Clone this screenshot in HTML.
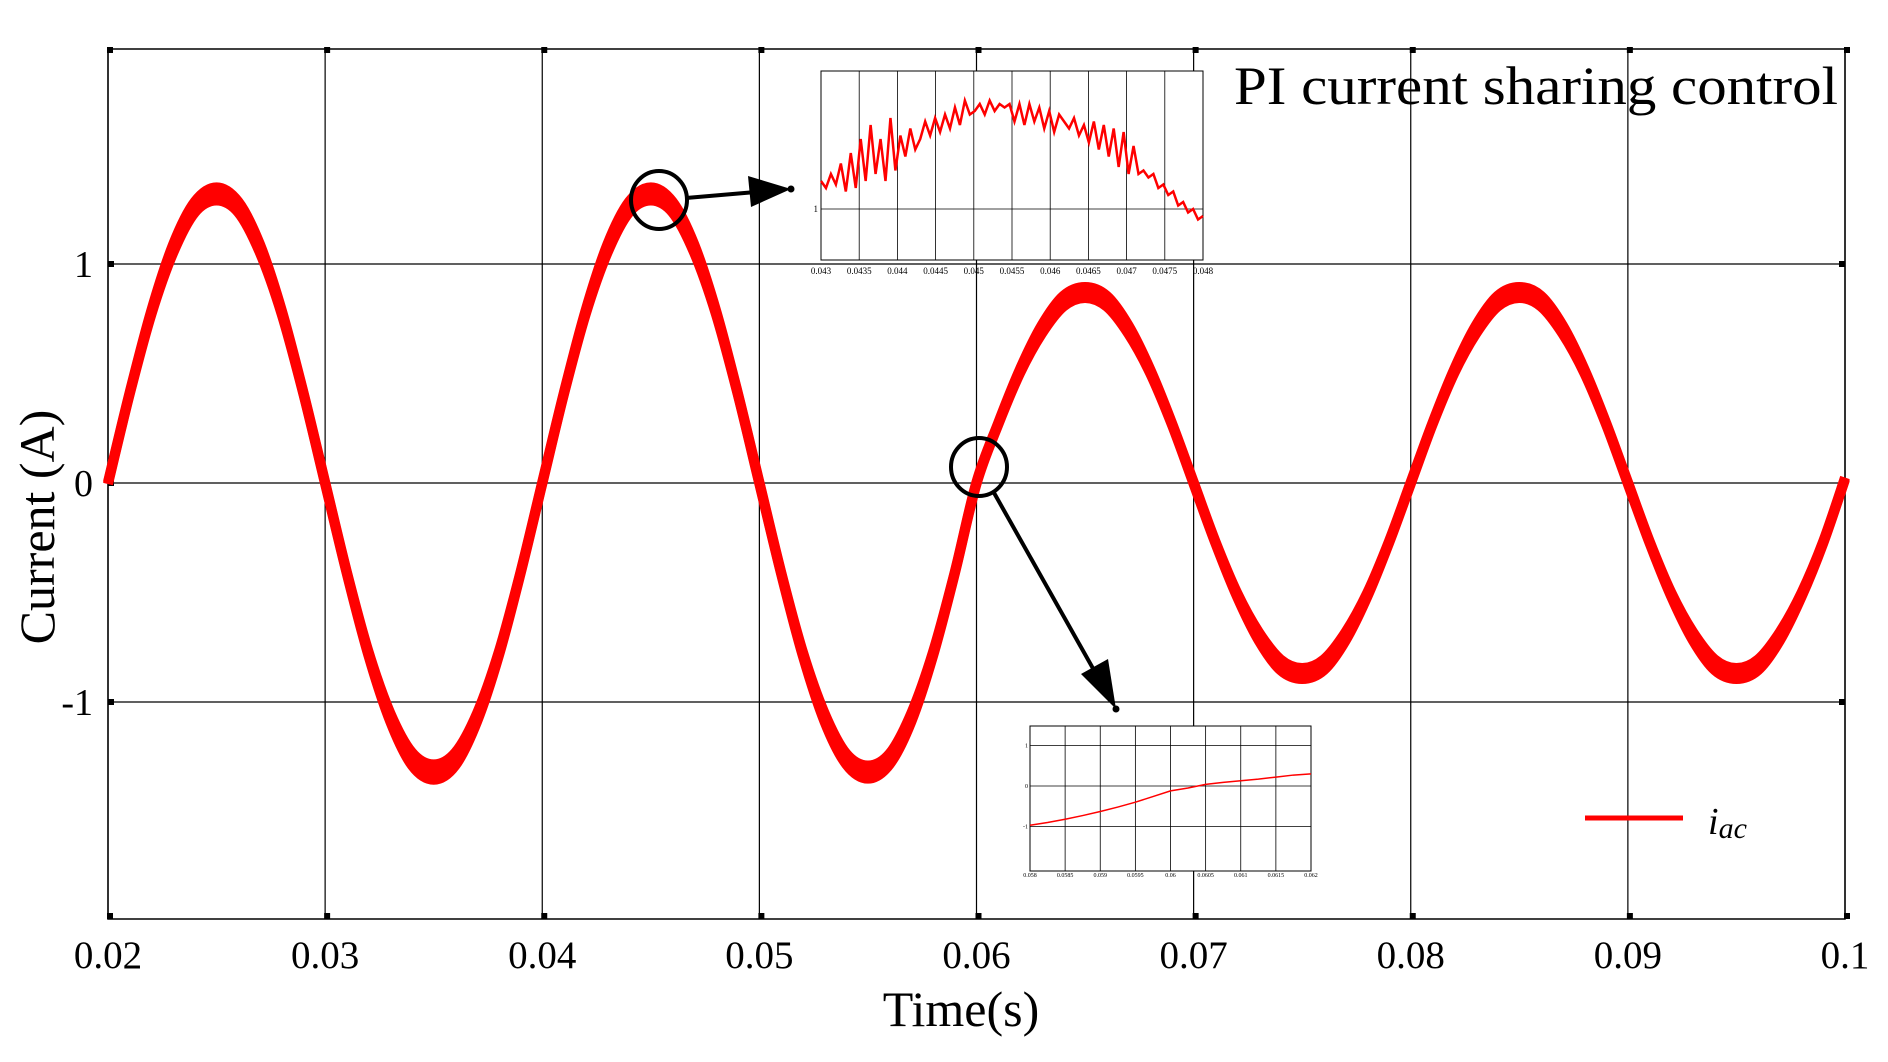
<!DOCTYPE html>
<html><head><meta charset="utf-8"><style>
html,body{margin:0;padding:0;background:#fff}
svg{display:block}
text{font-family:"Liberation Serif",serif;fill:#000}
</style></head><body>
<svg id="chart" width="1888" height="1062" viewBox="0 0 1888 1062" xmlns="http://www.w3.org/2000/svg">
<g id="main-grid"></g>
<g id="main-series"></g>
<g id="inset1"></g>
<g id="inset2"></g>
<g id="annot"></g>
<text x="1234" y="104" font-size="54" textLength="604" lengthAdjust="spacingAndGlyphs">PI current sharing control</text>
<line x1="1585" y1="818" x2="1683" y2="818" stroke="#ff0000" stroke-width="5"/>
<text x="1708" y="834" font-size="38" font-style="italic">i<tspan font-size="30" dy="4">ac</tspan></text>
<text x="961" y="1026" font-size="50" text-anchor="middle">Time(s)</text>
<text transform="translate(54,527) rotate(-90)" font-size="50" text-anchor="middle">Current (A)</text>
</svg>
<script>
// main chart data
const xTicks = [0.02,0.03,0.04,0.05,0.06,0.07,0.08,0.09,0.1];
const xTickLabels = ["0.02","0.03","0.04","0.05","0.06","0.07","0.08","0.09","0.1"];
const yTicks = [-1,0,1];
const yTickLabels = ["-1","0","1"];
const tStart = 0.02, tStep = 0.001;
const iac = [
 0,0.41,0.78,1.07,1.26,1.32,1.26,1.07,0.78,0.41,
 0,-0.41,-0.78,-1.07,-1.26,-1.32,-1.26,-1.07,-0.78,-0.41,
 0,0.41,0.78,1.07,1.26,1.32,1.26,1.07,0.78,0.41,
 0,-0.41,-0.78,-1.07,-1.26,-1.32,-1.26,-1.07,-0.78,-0.41,
 0,0.27,0.51,0.70,0.83,0.87,0.83,0.70,0.51,0.27,
 0,-0.27,-0.51,-0.70,-0.83,-0.87,-0.83,-0.70,-0.51,-0.27,
 0,0.27,0.51,0.70,0.83,0.87,0.83,0.70,0.51,0.27,
 0,-0.27,-0.51,-0.70,-0.83,-0.87,-0.83,-0.70,-0.51,-0.27,0.02];
// ripple half-width (A) around each sample
const ripple = [
 0.005,0.005,0.01,0.02,0.025,0.03,0.025,0.02,0.01,0.005,
 0.005,0.005,0.01,0.02,0.03,0.035,0.03,0.02,0.01,0.005,
 0.005,0.005,0.01,0.02,0.025,0.03,0.025,0.02,0.01,0.005,
 0.005,0.005,0.01,0.02,0.025,0.03,0.025,0.02,0.01,0.005,
 0.005,0.005,0.01,0.02,0.025,0.025,0.025,0.02,0.01,0.005,
 0.005,0.005,0.01,0.02,0.025,0.025,0.025,0.02,0.01,0.005,
 0.005,0.005,0.01,0.02,0.025,0.025,0.025,0.02,0.01,0.005,
 0.005,0.005,0.01,0.02,0.025,0.025,0.025,0.02,0.01,0.005,0.005];
// inset 1 data (0.043 - 0.048)
const in1XTicks = [0.043,0.0435,0.044,0.0445,0.045,0.0455,0.046,0.0465,0.047,0.0475,0.048];
const in1XLabels = ["0.043","0.0435","0.044","0.0445","0.045","0.0455","0.046","0.0465","0.047","0.0475","0.048"];
const in1Values = [1.08,1.06,1.10,1.07,1.13,1.05,1.16,1.06,1.20,1.08,1.24,1.10,1.20,1.08,1.26,1.11,1.21,1.15,1.23,1.17,
 1.20,1.25,1.21,1.26,1.22,1.27,1.23,1.29,1.24,1.31,1.27,1.28,1.30,1.27,1.31,1.28,1.30,1.29,1.30,1.25,
 1.30,1.24,1.30,1.25,1.29,1.23,1.28,1.22,1.27,1.25,1.23,1.26,1.21,1.24,1.19,1.25,1.17,1.24,1.15,1.23,
 1.12,1.22,1.10,1.18,1.10,1.11,1.09,1.10,1.06,1.07,1.04,1.05,1.01,1.02,0.99,1.00,0.97,0.98];
const in1Start = 0.043, in1End = 0.048;
// inset 2 data (0.058 - 0.062)
const in2XLabels = ["0.058","0.0585","0.059","0.0595","0.06","0.0605","0.061","0.0615","0.062"];
const in2YTicks = [-1,0,1];
const in2Values = [-0.97,-0.90,-0.82,-0.73,-0.63,-0.52,-0.40,-0.26,-0.12,-0.05,0.04,0.09,0.13,0.17,0.22,0.27,0.30];

const NS="http://www.w3.org/2000/svg";
function mk(tag,attrs,parent){const e=document.createElementNS(NS,tag);for(const k in attrs)e.setAttribute(k,attrs[k]);parent.appendChild(e);return e;}
// main axes
const L=108,R=1845,T=49,B=919;
const X=t=>L+(t-0.02)/0.08*(R-L);
const Y=v=>483-v*219;
const g=document.getElementById('main-grid');
const frame=mk('rect',{x:L,y:T,width:R-L,height:B-T,fill:'none',stroke:'#000','stroke-width':1.5},g);


xTicks.forEach((t,i)=>{
 const ln=mk('line',{x1:X(t),y1:T,x2:X(t),y2:B,stroke:'#000','stroke-width':1.2},g);
 
 
 mk('rect',{x:X(t)-1,y:T-2,width:6,height:6,fill:'#000'},g);
 mk('rect',{x:X(t)-1,y:B-6,width:6,height:6,fill:'#000'},g);
 const tx=mk('text',{x:X(t),y:968,'font-size':39,'text-anchor':'middle'},g);
 tx.textContent=xTickLabels[i];
 
 
});
yTicks.forEach((v,i)=>{
 const ln=mk('line',{x1:L,y1:Y(v),x2:R,y2:Y(v),stroke:'#000','stroke-width':1.2},g);
 
 
 mk('rect',{x:L,y:Y(v)-3,width:6,height:6,fill:'#000'},g);
 mk('rect',{x:R-6,y:Y(v)-3,width:6,height:6,fill:'#000'},g);
 const tx=mk('text',{x:93,y:Y(v)+13,'font-size':38,'text-anchor':'end'},g);
 tx.textContent=yTickLabels[i];
 
 
});
function smoothPath(pts){
 let d='M'+pts[0][0]+','+pts[0][1];
 for(let i=0;i<pts.length-1;i++){
  const p0=pts[Math.max(0,i-1)],p1=pts[i],p2=pts[i+1],p3=pts[Math.min(pts.length-1,i+2)];
  d+=' C'+(p1[0]+(p2[0]-p0[0])/6)+','+(p1[1]+(p2[1]-p0[1])/6)+' '+(p2[0]-(p3[0]-p1[0])/6)+','+(p2[1]-(p3[1]-p1[1])/6)+' '+p2[0]+','+p2[1];
 }
 return d;
}
const sg=document.getElementById('main-series');
const up=iac.map((v,i)=>[X(tStart+i*tStep),Y(v+ripple[i])]);
const lo=iac.map((v,i)=>[X(tStart+i*tStep),Y(v-ripple[i])]);
const bandU=mk('path',{d:smoothPath(up),fill:'none',stroke:'#ff0000','stroke-width':10,'stroke-linejoin':'round'},sg);


const bandL=mk('path',{d:smoothPath(lo),fill:'none',stroke:'#ff0000','stroke-width':10,'stroke-linejoin':'round'},sg);


const pts=iac.map((v,i)=>[X(tStart+i*tStep),Y(v)]);
const ser=mk('path',{d:smoothPath(pts),fill:'none',stroke:'#ff0000','stroke-width':10,'stroke-linejoin':'round'},sg);



// inset 1
const g1=document.getElementById('inset1');
const aL=821,aR=1203,aT=71,aB=260;
const aX=t=>aL+(t-in1Start)/(in1End-in1Start)*(aR-aL);
const aY=v=>209-(v-1)*350;
mk('rect',{x:aL,y:aT,width:aR-aL,height:aB-aT,fill:'#fff',stroke:'#000','stroke-width':1},g1);
in1XTicks.forEach((t,i)=>{
 mk('line',{x1:aX(t),y1:aT,x2:aX(t),y2:aB,stroke:'#000','stroke-width':0.8},g1);
 const tx=mk('text',{x:aX(t),y:274,'font-size':9,'text-anchor':'middle'},g1);
 tx.textContent=in1XLabels[i];
 
 
});
mk('line',{x1:aL,y1:aY(1),x2:aR,y2:aY(1),stroke:'#000','stroke-width':0.8},g1);
const t1=mk('text',{x:aL-3,y:aY(1)+3,'font-size':9,'text-anchor':'end'},g1);t1.textContent='1';
const in1Pts=in1Values.map((v,i)=>aX(in1Start+i*(in1End-in1Start)/(in1Values.length-1))+','+aY(v)).join(' ');
const p1=mk('polyline',{points:in1Pts,fill:'none',stroke:'#ff0000','stroke-width':2.5},g1);



// inset 2
const g2=document.getElementById('inset2');
const bL=1030,bR=1311,bT=726,bB=871;
const bY=v=>786-v*40.5;
mk('rect',{x:bL,y:bT,width:bR-bL,height:bB-bT,fill:'#fff',stroke:'#000','stroke-width':1},g2);
in2XLabels.forEach((s,i)=>{
 const x=bL+i*(bR-bL)/8;
 mk('line',{x1:x,y1:bT,x2:x,y2:bB,stroke:'#000','stroke-width':0.8},g2);
 const tx=mk('text',{x:x,y:877,'font-size':6,'text-anchor':'middle'},g2);
 tx.textContent=s;
 
 
});
in2YTicks.forEach(v=>{
 mk('line',{x1:bL,y1:bY(v),x2:bR,y2:bY(v),stroke:'#000','stroke-width':0.8},g2);
 const tx=mk('text',{x:bL-2,y:bY(v)+2,'font-size':6,'text-anchor':'end'},g2);tx.textContent=String(v);
});
const in2Pts=in2Values.map((v,i)=>(bL+i*(bR-bL)/(in2Values.length-1))+','+bY(v)).join(' ');
const p2=mk('polyline',{points:in2Pts,fill:'none',stroke:'#ff0000','stroke-width':1.5},g2);



// annotations
const an=document.getElementById('annot');
const c1=mk('ellipse',{cx:659,cy:200,rx:28,ry:29,fill:'none',stroke:'#000','stroke-width':4},an);


const c2=mk('ellipse',{cx:979,cy:467,rx:28,ry:29,fill:'none',stroke:'#000','stroke-width':4},an);


mk('line',{x1:686,y1:198,x2:756,y2:192,stroke:'#000','stroke-width':4},an);
mk('polygon',{points:'791,189 748,176 751,207',fill:'#000'},an);
mk('line',{x1:993,y1:491,x2:1095,y2:672,stroke:'#000','stroke-width':4},an);
mk('polygon',{points:'1116,709 1081,674 1108,659',fill:'#000'},an);
mk('circle',{cx:791,cy:189,r:3.5,fill:'#000'},an);
mk('circle',{cx:1116,cy:709,r:3.5,fill:'#000'},an);
</script>
</body></html>
